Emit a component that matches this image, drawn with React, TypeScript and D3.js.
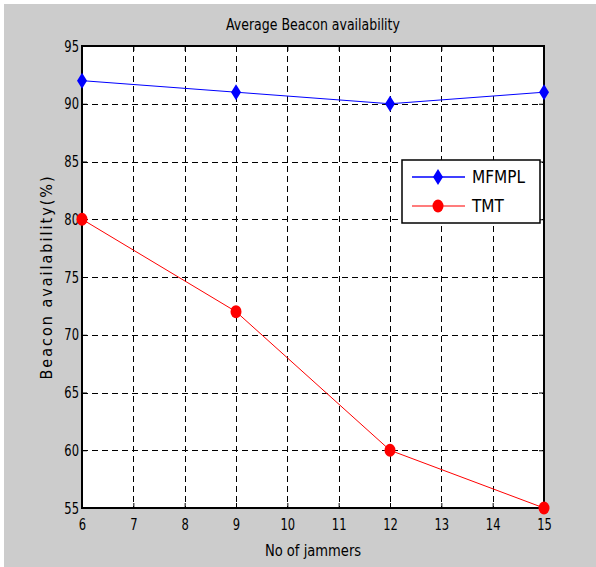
import React, { useEffect, useRef } from 'react';
import * as d3 from 'd3';

// data
const jammers = [6, 9, 12, 15];
const mfmpl = [92, 91, 90, 91];
const tmt = [80, 72, 60, 55];
const xTicks = [6, 7, 8, 9, 10, 11, 12, 13, 14, 15];
const yTicks = [55, 60, 65, 70, 75, 80, 85, 90, 95];

const FONT = "'DejaVu Sans Condensed', 'Liberation Sans Narrow', sans-serif";

// narrow the glyphs a bit, the original uses a narrow face
function squeeze(sel: any, factor: number) {
    sel.each(function (this: SVGTextElement) {
        const w = this.getComputedTextLength();
        d3.select(this)
            .attr('textLength', w * factor)
            .attr('lengthAdjust', 'spacingAndGlyphs');
    });
}

export default function App() {
    const ref = useRef<SVGSVGElement | null>(null);

    useEffect(() => {
        const width = 596;
        const height = 567;
        const left = 82;
        const top = 46;
        const right = 544;
        const bottom = 508;

        const svg = d3.select(ref.current);
        svg.selectAll('*').remove();

        // figure background
        svg.append('rect')
            .attr('x', 0).attr('y', 0)
            .attr('width', width).attr('height', height)
            .attr('fill', '#fff');
        svg.append('rect')
            .attr('x', 4).attr('y', 4)
            .attr('width', width - 4).attr('height', height - 4)
            .attr('fill', '#cccccc');

        const x = d3.scaleLinear().domain([6, 15]).range([left, right]);
        const y = d3.scaleLinear().domain([55, 95]).range([bottom, top]);

        // plot area
        svg.append('rect')
            .attr('x', left).attr('y', top)
            .attr('width', right - left).attr('height', bottom - top)
            .attr('fill', '#fff');

        // grid
        const grid = svg.append('g').attr('stroke', '#000').attr('stroke-width', 1)
            .attr('stroke-dasharray', '6,4');
        grid.selectAll('.gx')
            .data(xTicks.slice(1, -1))
            .enter()
            .append('line')
            .attr('x1', (d) => Math.round(x(d)) + 0.5)
            .attr('x2', (d) => Math.round(x(d)) + 0.5)
            .attr('y1', top)
            .attr('y2', bottom);
        grid.selectAll('.gy')
            .data(yTicks.slice(1, -1))
            .enter()
            .append('line')
            .attr('y1', (d) => Math.round(y(d)) + 0.5)
            .attr('y2', (d) => Math.round(y(d)) + 0.5)
            .attr('x1', left)
            .attr('x2', right);

        // axes (ticks inside like matlab)
        const xAxis = d3.axisBottom(x).tickValues(xTicks).tickSize(-5).tickPadding(11)
            .tickFormat(d3.format('d'));
        const yAxis = d3.axisLeft(y).tickValues(yTicks).tickSize(-5).tickPadding(3)
            .tickFormat(d3.format('d'));

        const gx = svg.append('g').attr('transform', `translate(0,${bottom})`).call(xAxis);
        const gy = svg.append('g').attr('transform', `translate(${left},0)`).call(yAxis);
        const gxTop = svg.append('g').attr('transform', `translate(0,${top})`)
            .call(d3.axisTop(x).tickValues(xTicks).tickSize(-5).tickFormat(() => ''));
        const gyRight = svg.append('g').attr('transform', `translate(${right},0)`)
            .call(d3.axisRight(y).tickValues(yTicks).tickSize(-5).tickFormat(() => ''));

        [gx, gy, gxTop, gyRight].forEach((g) => {
            g.select('.domain').remove();
            g.selectAll('line').attr('stroke', '#000');
            g.selectAll('text')
                .attr('fill', '#000')
                .style('font-family', FONT)
                .style('font-size', '16px');
        });
        squeeze(gx.selectAll('text'), 0.8);
        squeeze(gy.selectAll('text'), 0.8);

        svg.append('rect')
            .attr('x', left).attr('y', top)
            .attr('width', right - left).attr('height', bottom - top)
            .attr('fill', 'none')
            .attr('stroke', '#000')
            .attr('stroke-width', 2);

        // lines
        const line = d3.line<number>()
            .x((d, i) => x(jammers[i]))
            .y((d) => y(d));

        svg.append('path')
            .datum(mfmpl)
            .attr('d', line)
            .attr('fill', 'none')
            .attr('stroke', '#0000ff')
            .attr('stroke-width', 1);
        svg.append('path')
            .datum(tmt)
            .attr('d', line)
            .attr('fill', 'none')
            .attr('stroke', '#ff0000')
            .attr('stroke-width', 1);

        const diamond = (cx: number, cy: number) => `M${cx},${cy - 8}L${cx + 5},${cy}L${cx},${cy + 8}L${cx - 5},${cy}Z`;

        svg.selectAll('.dia')
            .data(mfmpl)
            .enter()
            .append('path')
            .attr('d', (d, i) => diamond(x(jammers[i]), y(d)))
            .attr('fill', '#0000ff');
        svg.selectAll('.dot')
            .data(tmt)
            .enter()
            .append('ellipse')
            .attr('cx', (d, i) => x(jammers[i]))
            .attr('cy', (d) => y(d))
            .attr('rx', 5.5)
            .attr('ry', 6.5)
            .attr('fill', '#ff0000');

        // legend
        const lg = svg.append('g');
        lg.append('rect')
            .attr('x', 402).attr('y', 160)
            .attr('width', 138).attr('height', 63)
            .attr('fill', '#fff')
            .attr('stroke', '#000')
            .attr('stroke-width', 1.5);
        const items = [
            { name: 'MFMPL', color: '#0000ff', y: 177 },
            { name: 'TMT', color: '#ff5050', y: 206 },
        ];
        items.forEach((it, i) => {
            lg.append('line')
                .attr('x1', 412).attr('x2', 465)
                .attr('y1', it.y).attr('y2', it.y)
                .attr('stroke', it.color)
                .attr('stroke-width', 1.5);
            if (i === 0) {
                lg.append('path').attr('d', diamond(438, it.y)).attr('fill', '#0000ff');
            } else {
                lg.append('ellipse').attr('cx', 438).attr('cy', it.y)
                    .attr('rx', 5.5).attr('ry', 6.5).attr('fill', '#ff0000');
            }
            lg.append('text')
                .attr('x', 472).attr('y', it.y)
                .attr('dy', '0.35em')
                .style('font-family', FONT)
                .style('font-size', '17px')
                .text(it.name);
        });

        // titles
        const title = svg.append('text')
            .attr('x', (left + right) / 2)
            .attr('y', 30)
            .attr('text-anchor', 'middle')
            .style('font-family', FONT)
            .style('font-size', '16px')
            .text('Average Beacon availability');
        squeeze(title, 0.87);
        const xl = svg.append('text')
            .attr('x', (left + right) / 2)
            .attr('y', 556)
            .attr('text-anchor', 'middle')
            .style('font-family', FONT)
            .style('font-size', '16px')
            .text('No of jammers');
        squeeze(xl, 0.91);
        svg.append('text')
            .attr('transform', `translate(52,${(top + bottom) / 2}) rotate(-90)`)
            .attr('text-anchor', 'middle')
            .style('font-family', FONT)
            .style('font-size', '16px')
            .style('letter-spacing', '2px')
            .text('Beacon availability(%)');
    }, []);

    return (
        <div style={{ position: 'absolute', left: 0, top: 0 }}>
            <svg ref={ref} width={596} height={567} />
        </div>
    );
}
